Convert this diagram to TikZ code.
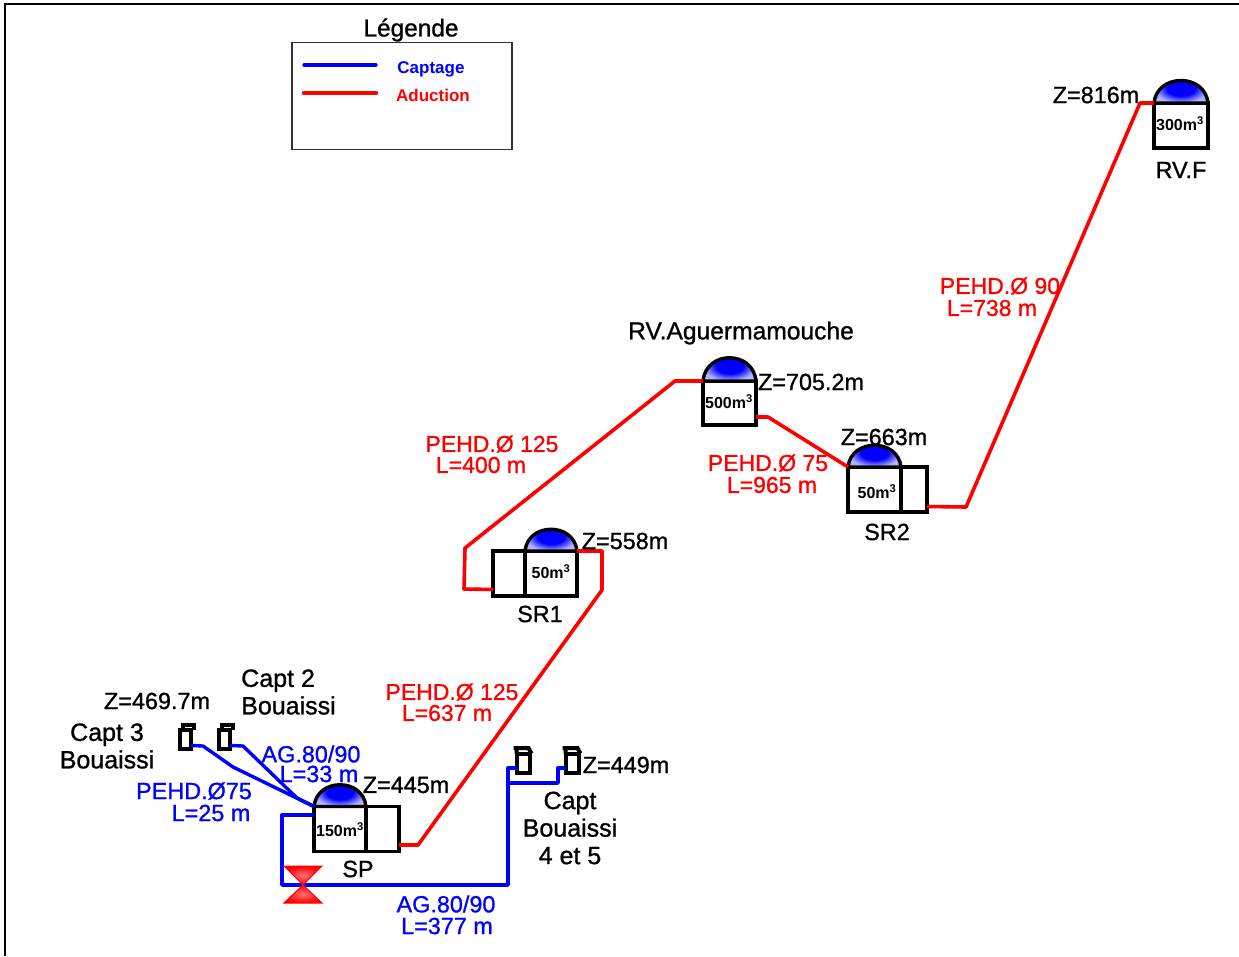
\documentclass[tikz,border=0pt]{standalone}
\usepackage{fontspec}
\setmainfont{Liberation Sans}
\newfontfamily\heavyfont{Liberation Sans}[FakeBold=1]
\usetikzlibrary{positioning}
\definecolor{legframe}{RGB}{50,50,50}
\pgfdeclareradialshading{domeshade}{\pgfpoint{0bp}{0bp}}{color(0bp)=(blue); color(13bp)=(blue); color(19bp)=(blue!65); color(25bp)=(blue!30); color(50bp)=(blue!30)}
\tikzset{
  lbl/.style={font=\heavyfont\fontsize{23.4}{28}\selectfont,inner sep=0pt,align=center},
  lblname/.style={font=\heavyfont\fontsize{25}{27.5}\selectfont,inner sep=0pt,align=center},
  lblblue/.style={font=\heavyfont\fontsize{23.4}{28}\selectfont,inner sep=0pt,color=blue},
  lblred/.style={font=\heavyfont\fontsize{23}{28}\selectfont,inner sep=0pt,color=red},
  volume/.style={font=\fontsize{16}{18}\selectfont\bfseries,inner sep=0pt},
  cuve/.style={draw,line width=3.4pt,inner sep=0pt,outer sep=0pt,minimum height=45pt},
  dome/.style={line width=3.4pt,draw=black,shading=domeshade},
  capte/.style={draw,line width=4pt,inner sep=0pt,outer sep=0pt,minimum width=11pt,minimum height=19pt},
  capline/.style={line width=4pt,line join=miter},
  captage/.style={line width=3.4pt,color=blue,line join=round},
  aduction/.style={line width=3.6pt,color=red,line join=round}
}
\begin{document}
\begin{tikzpicture}[x=1pt,y=-1pt]
  \useasboundingbox (0,0) rectangle (1239,956);
  \draw[line width=1.8pt] (5,956) -- (5,4) -- (1239,4);
  % legend
  \node[draw=legframe,line width=1.4pt,minimum width=220pt,minimum height=107pt,inner sep=0pt] (leg) at (402,96) {};
  \node[lbl,font=\heavyfont\fontsize{24.4}{28}\selectfont] (legt) at (411,30) {Légende};
  \node[font=\fontsize{17}{20}\selectfont\bfseries,color=blue,inner sep=0pt] (legb) at (431,69) {Captage};
  \node[font=\fontsize{17}{20}\selectfont\bfseries,color=red,inner sep=0pt] (legr) at (433,95) {Aduction};
  \coordinate (legba) at (304,65); \coordinate (legbb) at (376,65);
  \coordinate (legra) at (304,93); \coordinate (legrb) at (376,93);
  \draw[captage,line cap=round] (legba) -- (legbb);
  \draw[aduction,line width=4.4pt,line cap=round] (legra) -- (legrb);
  % tanks
  \node[cuve,minimum width=52pt] (sp) at (340,829) {};
  \node[cuve,minimum width=33pt,right=0pt of sp] (spb) {};
  \node[cuve,minimum width=52pt] (sra) at (551,573.5) {};
  \node[cuve,minimum width=32pt,left=0pt of sra] (srab) {};
  \node[cuve,minimum width=53pt,minimum height=44pt] (agu) at (729.5,403) {};
  \node[cuve,minimum width=53pt] (srb) at (874.5,489.5) {};
  \node[cuve,minimum width=26pt,right=0pt of srb] (srbb) {};
  \node[cuve,minimum width=54pt] (rvf) at (1181,125.5) {};
  \shadedraw[dome] (sp.north west) .. controls +(3,-29) and +(-3,-29) .. (sp.north east) -- cycle;
  \shadedraw[dome] (sra.north west) .. controls +(3,-29) and +(-3,-29) .. (sra.north east) -- cycle;
  \shadedraw[dome] (agu.north west) .. controls +(3,-31) and +(-3,-31) .. (agu.north east) -- cycle;
  \shadedraw[dome] (srb.north west) .. controls +(3,-29) and +(-3,-29) .. (srb.north east) -- cycle;
  \shadedraw[dome] (rvf.north west) .. controls +(3,-30) and +(-3,-30) .. (rvf.north east) -- cycle;
  % catchments
  \node[capte] (capa) at (185.5,739.5) {};
  \node[capte] (capb) at (224.5,739.5) {};
  \node[capte,minimum width=13pt] (capc) at (523,763) {};
  \node[capte,minimum width=13pt] (capd) at (572,763) {};
  \draw[capline] ([xshift=3pt]capa.north west) -- ++(0,-5) -- ++(11,0) -- ++(0,5);
  \draw[capline] ([xshift=3pt]capb.north west) -- ++(0,-5) -- ++(11,0) -- ++(0,5);
  \draw[capline] (capc.north west) -- ++(0,-5.5) -- ++(-3,0) -- ++(15,0) -- ++(3,5.5);
  \draw[capline] (capd.north west) -- ++(0,-5.5) -- ++(-3,0) -- ++(15,0) -- ++(3,5.5);
  % pipes
  \draw[captage] ([yshift=-6pt]capa.east) -- (203,746) -- (233,767) -- (sp.north west);
  \draw[captage] ([yshift=-6pt]capb.east) -- (243,746) -- (297,798) -- (sp.north west);
  \draw[captage] ([yshift=14pt]sp.west) -- (282,815) -- (282,885) -- (508,885) -- (508,768) -- ([yshift=-5pt]capc.west);
  \draw[captage] (508,783) -- (558,783) -- (558,768) -- ([yshift=-5pt]capd.west);
  \draw[aduction] ([yshift=-16pt]spb.east) -- (418,845) -- (602,590) -- (602,551) -- (sra.north east);
  \draw[aduction] ([yshift=-16pt]srab.west) -- (464,589) -- (465,548) -- (675,381) -- (agu.north west);
  \draw[aduction] ([yshift=-14pt]agu.east) -- (768,417) -- (srb.north west);
  \draw[aduction] ([yshift=-17pt]srbb.east) -- (966,507) -- (1140,103) -- (rvf.north west);
  % valve
  \coordinate (vanne) at (303,885);
  \shadedraw[draw=red,line width=1pt,inner color=red!55!white,outer color=red] (vanne) -- (284,866) -- (322,866) -- cycle;
  \shadedraw[draw=red,line width=1pt,inner color=red!55!white,outer color=red] (vanne) -- (284,903) -- (322,903) -- cycle;
  % volumes
  \node[volume] (vsp) at (340,830) {150m\textsuperscript{3}};
  \node[volume] (vsra) at (551,572) {50m\textsuperscript{3}};
  \node[volume] (vagu) at (729,402) {500m\textsuperscript{3}};
  \node[volume] (vsrb) at (877,492) {50m\textsuperscript{3}};
  \node[volume] (vrvf) at (1180,124) {300m\textsuperscript{3}};
  % names and heights
  \node[lbl] (zcapa) at (157,701) {Z=469.7m};
  \node[lblname,align=left] (ncapb) at (288.5,692) {Capt 2\\Bouaissi};
  \node[lblname] (ncapa) at (107,746) {Capt 3\\Bouaissi};
  \node[lbl] (zsp) at (406,785) {Z=445m};
  \node[lbl] (nsp) at (358,869) {SP};
  \node[lbl] (zcapd) at (626,765) {Z=449m};
  \node[lblname] (ncapd) at (570,828) {Capt\\Bouaissi\\4 et 5};
  \node[lbl] (nsra) at (540,614) {SR1};
  \node[lbl] (zsra) at (625,541) {Z=558m};
  \node[lbl,font=\heavyfont\fontsize{24.6}{28}\selectfont] (nagu) at (741,333) {RV.Aguermamouche};
  \node[lbl] (zagu) at (811,382) {Z=705.2m};
  \node[lbl] (zsrb) at (884,437) {Z=663m};
  \node[lbl] (nsrb) at (887,532) {SR2};
  \node[lbl] (zrvf) at (1096,95) {Z=816m};
  \node[lbl] (nrvf) at (1181,170) {RV.F};
  % pipe labels
  \node[lblblue] (pa) at (311,754) {AG.80/90};
  \node[lblblue] (pb) at (319,774) {L=33 m};
  \node[lblblue] (pc) at (194,791) {PEHD.Ø75};
  \node[lblblue] (pd) at (211,813) {L=25 m};
  \node[lblblue] (pe) at (446,904) {AG.80/90};
  \node[lblblue] (pf) at (447,926) {L=377 m};
  \node[lblred] (ra) at (452,692) {PEHD.Ø 125};
  \node[lblred] (rb) at (447,713) {L=637 m};
  \node[lblred] (rc) at (492,444) {PEHD.Ø 125};
  \node[lblred] (rd) at (481,465) {L=400 m};
  \node[lblred] (re) at (768,463) {PEHD.Ø 75};
  \node[lblred] (rf) at (772,485) {L=965 m};
  \node[lblred] (rg) at (1000,286) {PEHD.Ø 90};
  \node[lblred] (rh) at (992,308) {L=738 m};
\end{tikzpicture}
\end{document}
